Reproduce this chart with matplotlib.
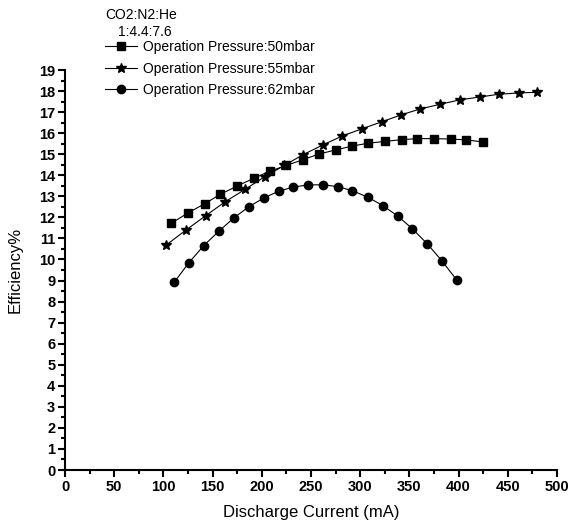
import matplotlib.pyplot as plt
import numpy as np

plt.rcParams['font.family'] = ['Liberation Sans', 'DejaVu Sans']

# Operation Pressure: 50 mbar (squares)
current_50 = [108, 125, 142, 158, 175, 192, 208, 225, 242, 258,
              275, 292, 308, 325, 342, 358, 375, 392, 408, 425]
eff_50 = [11.72, 12.21, 12.65, 13.10, 13.49, 13.86, 14.19, 14.47, 14.74, 15.01,
          15.20, 15.39, 15.52, 15.61, 15.69, 15.74, 15.74, 15.72, 15.68, 15.58]

# Operation Pressure: 55 mbar (stars)
current_55 = [103, 123, 143, 163, 183, 203, 223, 242, 262, 282,
              302, 322, 341, 361, 381, 401, 422, 441, 461, 480]
eff_55 = [10.69, 11.40, 12.08, 12.75, 13.33, 13.93, 14.47, 14.98, 15.44, 15.87,
          16.21, 16.54, 16.86, 17.15, 17.37, 17.58, 17.72, 17.85, 17.91, 17.94]

# Operation Pressure: 62 mbar (circles)
current_62 = [111, 126, 141, 157, 172, 187, 202, 217, 232, 247,
              262, 277, 292, 308, 323, 338, 353, 368, 383, 398]
eff_62 = [8.92, 9.85, 10.66, 11.37, 11.99, 12.51, 12.92, 13.24, 13.44, 13.54,
          13.55, 13.46, 13.27, 12.95, 12.56, 12.07, 11.46, 10.75, 9.94, 9.03]

labels = ['Operation Pressure:50mbar', 'Operation Pressure:55mbar',
          'Operation Pressure:62mbar']

fig = plt.figure(figsize=(5.68, 5.27), dpi=100)
ax = fig.add_axes([65/568, 57/527, 492/568, 400/527])

ax.plot(current_50, eff_50, 'k-', marker='s', ms=5.2, lw=0.8, label=labels[0])
ax.plot(current_55, eff_55, 'k-', marker='*', ms=7.5, lw=0.8, label=labels[1])
ax.plot(current_62, eff_62, 'k-', marker='o', ms=6, lw=0.8, label=labels[2])

ax.set_xlim(0, 500)
ax.set_ylim(0, 19)
ax.set_xticks(np.arange(0, 501, 50))
ax.set_xticks(np.arange(25, 500, 50), minor=True)
ax.set_yticks(np.arange(0, 20, 1))
ax.set_yticks(np.arange(0.5, 19, 1), minor=True)
ax.spines['top'].set_visible(False)
ax.spines['right'].set_visible(False)
for s in ['left', 'bottom']:
    ax.spines[s].set_linewidth(1.5)
ax.tick_params(which='major', direction='out', length=5, width=1.5, labelsize=10.5, pad=2)
ax.tick_params(which='minor', direction='out', length=3, width=1.5)
for t in ax.get_xticklabels() + ax.get_yticklabels():
    t.set_fontweight('bold')

ax.set_xlabel('Discharge Current (mA)', fontsize=12, labelpad=8)
ax.set_ylabel('Efficiency%', fontsize=12, labelpad=12)

leg = ax.legend(loc='upper left', bbox_to_anchor=(105/568, 1 - 40/527),
                bbox_transform=fig.transFigure, frameon=False, fontsize=10,
                handlelength=2.3, handletextpad=0.45, labelspacing=0.55,
                borderpad=0, borderaxespad=0)
fig.text(105/568, 1 - 15/527, 'CO2:N2:He', fontsize=10, va='center')
fig.text(118/568, 1 - 32/527, '1:4.4:7.6', fontsize=10, va='center')

fig.savefig('out.png', dpi=100)
